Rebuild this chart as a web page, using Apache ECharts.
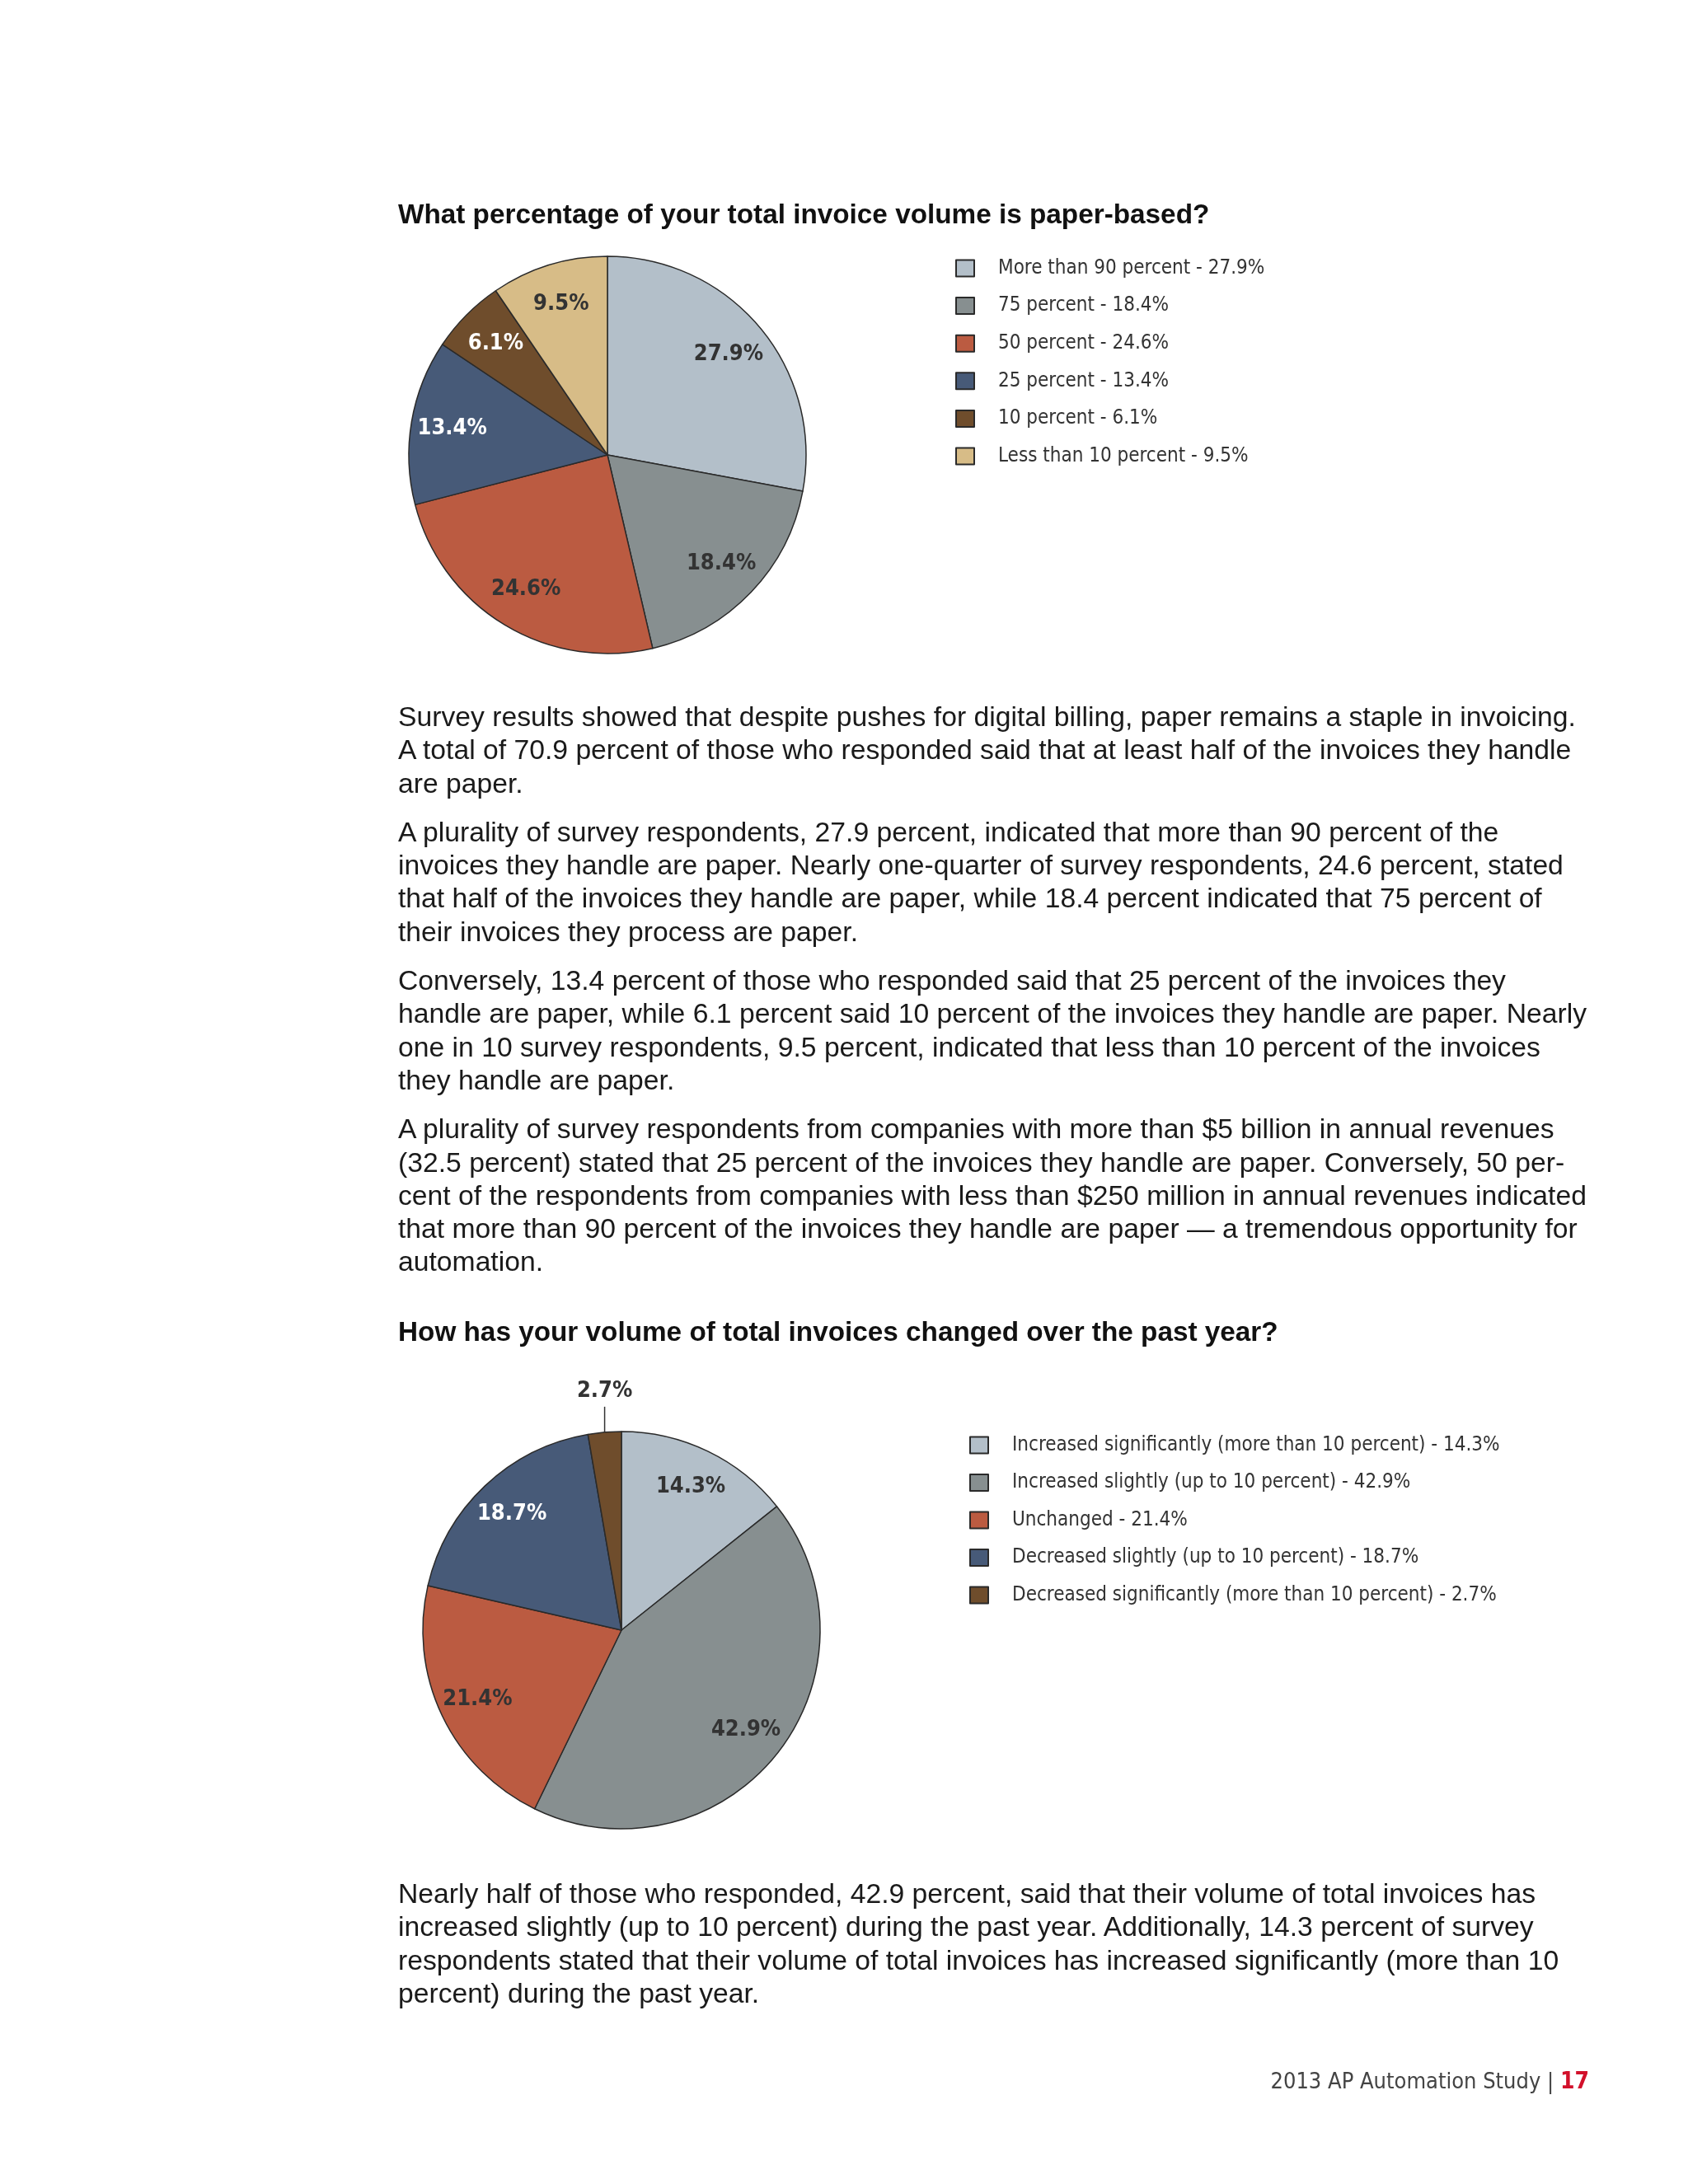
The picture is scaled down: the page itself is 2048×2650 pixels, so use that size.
<!DOCTYPE html>
<html>
<head>
<meta charset="utf-8">
<title>2013 AP Automation Study - page 17</title>
<script src="https://cdn.jsdelivr.net/npm/echarts/dist/echarts.min.js"></script>
<style>
  body { margin: 0; background: #fff; }
  #page { position: relative; width: 2048px; height: 2650px; background: #fff; }
  #chart { position: absolute; left: 0; top: 0; width: 2048px; height: 2650px; }
  .txt {
    position: absolute; left: 483px;
    font-family: "Liberation Sans", Arial, sans-serif;
    font-size: 33.7px; line-height: 40.3px; color: #1a1a1a; white-space: nowrap;
  }
  .txt p { margin: 0 0 19px 0; }
  #foot {
    position: absolute; right: 120px; top: 2505px;
    font-family: "DejaVu Sans Condensed", "Liberation Sans Narrow", sans-serif;
    font-size: 27px; line-height: 40px; color: #444;
  }
  #foot b { color: #d2112b; font-size: 28px; }
</style>
</head>
<body>
<div id="page">
  <div id="chart"></div>

  <div class="txt" style="top:849px">
    <p>Survey results showed that despite pushes for digital billing, paper remains a staple in invoicing.<br>
    A total of 70.9 percent of those who responded said that at least half of the invoices they handle<br>
    are paper.</p>
    <p>A plurality of survey respondents, 27.9 percent, indicated that more than 90 percent of the<br>
    invoices they handle are paper. Nearly one-quarter of survey respondents, 24.6 percent, stated<br>
    that half of the invoices they handle are paper, while 18.4 percent indicated that 75 percent of<br>
    their invoices they process are paper.</p>
    <p>Conversely, 13.4 percent of those who responded said that 25 percent of the invoices they<br>
    handle are paper, while 6.1 percent said 10 percent of the invoices they handle are paper. Nearly<br>
    one in 10 survey respondents, 9.5 percent, indicated that less than 10 percent of the invoices<br>
    they handle are paper.</p>
    <p>A plurality of survey respondents from companies with more than $5 billion in annual revenues<br>
    (32.5 percent) stated that 25 percent of the invoices they handle are paper. Conversely, 50 per-<br>
    cent of the respondents from companies with less than $250 million in annual revenues indicated<br>
    that more than 90 percent of the invoices they handle are paper — a tremendous opportunity for<br>
    automation.</p>
  </div>

  <div class="txt" style="top:2277px">
    <p>Nearly half of those who responded, 42.9 percent, said that their volume of total invoices has<br>
    increased slightly (up to 10 percent) during the past year. Additionally, 14.3 percent of survey<br>
    respondents stated that their volume of total invoices has increased significantly (more than 10<br>
    percent) during the past year.</p>
  </div>

  <div id="foot">2013 AP Automation Study | <b>17</b></div>
</div>

<script>
    // data
    var paperCats = ['More than 90 percent', '75 percent', '50 percent', '25 percent', '10 percent', 'Less than 10 percent'];
    var paperShare = [27.9, 18.4, 24.6, 13.4, 6.1, 9.5];

    var changeCats = ['Increased significantly (more than 10 percent)', 'Increased slightly (up to 10 percent)',
                      'Unchanged', 'Decreased slightly (up to 10 percent)', 'Decreased significantly (more than 10 percent)'];
    var changeShare = [14.3, 42.9, 21.4, 18.7, 2.7];

    // styling
    var paperColors = ['#b3bfc9', '#878f90', '#bb5b41', '#475a78', '#6f4d2c', '#d7bc87'];
    var paperLabelColors = ['#333', '#333', '#333', '#fff', '#fff', '#333'];
    var changeColors = ['#b3bfc9', '#878f90', '#bb5b41', '#475a78', '#6f4d2c'];
    var changeLabelColors = ['#333', '#333', '#333', '#fff', '#333'];

    var narrow = '"DejaVu Sans Condensed", "Liberation Sans Narrow", sans-serif';

    function sliceData(cats, vals, colors) {
        return cats.map(function (c, i) {
            return { name: c, value: vals[i], itemStyle: { color: colors[i] } };
        });
    }
    function labelData(cats, vals, labelColors) {
        return cats.map(function (c, i) {
            return { name: c, value: vals[i], label: { color: labelColors[i] } };
        });
    }
    function legendFmt(cats, vals) {
        return function (name) {
            return name + ' - ' + vals[cats.indexOf(name)] + '%';
        };
    }

    var legendText = { fontFamily: narrow, fontSize: 24, color: '#333', lineHeight: 25, padding: [0, 0, 0, 24] };
    var pieLabel = { show: true, position: 'inside', formatter: '{c}%', fontFamily: narrow, fontSize: 27, fontWeight: 'bold' };

    var chart = echarts.init(document.getElementById('chart'), null, { renderer: 'canvas' });

    var overlay2 = labelData(changeCats, changeShare, changeLabelColors);
    overlay2[4].label.position = 'outside';
    overlay2[4].labelLine = { show: true, length: 30, length2: 0, lineStyle: { color: '#333', width: 1.5 } };

    var option = {
        animation: false,
        backgroundColor: '#fff',
        title: [
            {
                text: 'What percentage of your total invoice volume is paper-based?',
                left: 483, top: 244, padding: 0,
                textStyle: { fontFamily: '"Liberation Sans", Arial, sans-serif', fontSize: 33.3, fontWeight: 'bold', color: '#111', lineHeight: 36 }
            },
            {
                text: 'How has your volume of total invoices changed over the past year?',
                left: 483, top: 1600, padding: 0,
                textStyle: { fontFamily: '"Liberation Sans", Arial, sans-serif', fontSize: 33.3, fontWeight: 'bold', color: '#111', lineHeight: 36 }
            }
        ],
        legend: [
            {
                orient: 'vertical', left: 1159, top: 313, padding: 0,
                itemWidth: 22, itemHeight: 20, itemGap: 20.6, icon: 'rect',
                selectedMode: false,
                data: paperCats,
                formatter: legendFmt(paperCats, paperShare),
                textStyle: legendText
            },
            {
                orient: 'vertical', left: 1176, top: 1741, padding: 0,
                itemWidth: 22, itemHeight: 20, itemGap: 20.5, icon: 'rect',
                selectedMode: false,
                data: changeCats,
                formatter: legendFmt(changeCats, changeShare),
                textStyle: legendText
            }
        ],
        series: [
            {
                type: 'pie', name: 'paper',
                center: [737, 552], radius: 241,
                startAngle: 90, clockwise: true,
                label: { show: false }, labelLine: { show: false },
                itemStyle: { borderColor: '#2a2a2a', borderWidth: 1.5 },
                emphasis: { disabled: true },
                data: sliceData(paperCats, paperShare, paperColors)
            },
            {
                type: 'pie', name: 'paperLabels', silent: true,
                center: [737, 552], radius: [135, 241],
                startAngle: 90, clockwise: true, avoidLabelOverlap: false,
                itemStyle: { color: 'transparent', borderWidth: 0 },
                label: pieLabel,
                labelLine: { show: false },
                emphasis: { disabled: true },
                data: labelData(paperCats, paperShare, paperLabelColors)
            },
            {
                type: 'pie', name: 'change',
                center: [754, 1978], radius: 241,
                startAngle: 90, clockwise: true,
                label: { show: false }, labelLine: { show: false },
                itemStyle: { borderColor: '#2a2a2a', borderWidth: 1.5 },
                emphasis: { disabled: true },
                data: sliceData(changeCats, changeShare, changeColors)
            },
            {
                type: 'pie', name: 'changeLabels', silent: true,
                center: [754, 1978], radius: [140, 241],
                startAngle: 90, clockwise: true, avoidLabelOverlap: false,
                itemStyle: { color: 'transparent', borderWidth: 0 },
                label: pieLabel,
                labelLine: { show: false },
                emphasis: { disabled: true },
                labelLayout: function (p) {
                    if (p.dataIndex !== 4 || !p.labelLinePoints) return {};
                    var a = p.labelLinePoints[0];
                    var b = [a[0], a[1] - 31];
                    return { x: a[0], y: a[1] - 36, align: 'center', verticalAlign: 'bottom', labelLinePoints: [a, b, b] };
                },
                data: overlay2
            }
        ]
    };
    chart.setOption(option);
</script>
</body>
</html>
